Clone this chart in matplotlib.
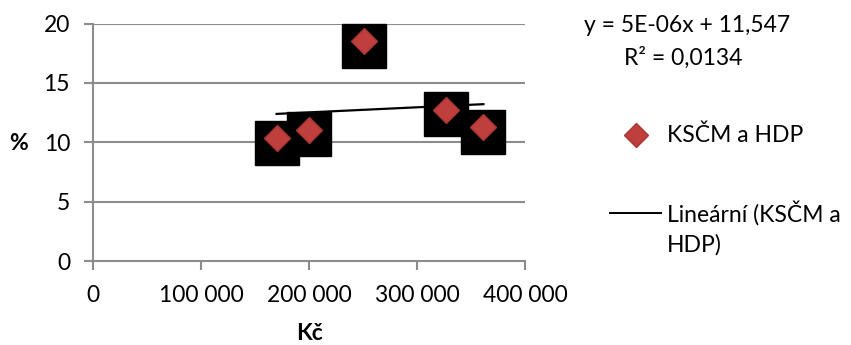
import numpy as np
import matplotlib
matplotlib.use("Agg")
import matplotlib.pyplot as plt
import matplotlib.transforms as mtransforms
from matplotlib.lines import Line2D

# Data
income = [170000, 200000, 251000, 327000, 361500]
share = [10.35, 11.05, 18.5, 12.75, 11.25]
series_name = "KSČM a HDP"
trend_name = "Lineární (KSČM a\nHDP)"
equation = "y = 5E-06x + 11,547"
r2_text = "R² = 0,0134"
x_ticks = [0, 100000, 200000, 300000, 400000]
x_ticklabels = ["0", "100 000", "200 000", "300 000", "400 000"]
y_ticks = [0, 5, 10, 15, 20]

FONT = "Lato"
plt.rcParams['font.family'] = [FONT, 'DejaVu Sans']
FS = 16.5

fig = plt.figure(figsize=(8.51, 3.45), dpi=100)
ax = fig.add_axes([93/851, 1-261/345, (525-93)/851, (261-23.5)/345])

grid_c = "#8c8c8c"
ax.set_xlim(0, 400000)
ax.set_ylim(0, 20)
ax.set_yticks(y_ticks)
ax.set_yticklabels([str(v) for v in y_ticks])
ax.set_xticks(x_ticks)
ax.set_xticklabels(x_ticklabels)
for v in y_ticks[1:]:
    ax.axhline(v, color=grid_c, lw=1.5, zorder=0)
for s in ["top", "right"]:
    ax.spines[s].set_visible(False)
for s in ["left", "bottom"]:
    ax.spines[s].set_color(grid_c)
    ax.spines[s].set_linewidth(1.5)
ax.tick_params(axis='both', colors=grid_c, length=6.5, width=1.5, direction='out',
               labelcolor='black', labelsize=FS)
ax.tick_params(axis='x', pad=11)
ax.tick_params(axis='y', pad=10)

# black squares slightly offset below markers
off = mtransforms.ScaledTranslation(0, -4.5/100, fig.dpi_scale_trans)
ax.plot(income, share, ls='none', marker='s', ms=31.5, mfc='black', mec='black',
        transform=ax.transData + off, zorder=2, clip_on=False)
ax.plot(income, share, ls='none', marker='D', ms=13.5, mfc='#BF3F3D', mec='#A83634',
        mew=1.0, zorder=4, clip_on=False)

# trendline
coef = np.polyfit(income, share, 1)
xs = np.array([min(income), max(income)])
ax.plot(xs, np.polyval(coef, xs), color='black', lw=1.6, zorder=3)

fig.text(310/851, 1-340/345, "Kč", fontsize=FS, fontweight='bold', ha='center', va='baseline')
fig.text(19/851, 1-143/345, "%", fontsize=FS, fontweight='bold', ha='center', va='center')

# equation text
fig.text(687/851, 1-26/345, equation, fontsize=FS, ha='center', va='center')
fig.text(683/851, 1-58/345, r2_text, fontsize=FS, ha='center', va='center')

# legend (manual)
fig.add_artist(Line2D([636/851], [1-135/345], marker='D', ms=12, mfc='#BF3F3D',
                      mec='#A83634', ls='none', transform=fig.transFigure))
fig.text(667/851, 1-135/345, series_name, fontsize=FS, ha='left', va='center')
fig.add_artist(Line2D([610/851, 661/851], [1-213/345, 1-213/345], color='black', lw=1.4,
                      transform=fig.transFigure))
fig.text(667/851, 1-213/345, trend_name.split("\n")[0], fontsize=FS, ha='left', va='center')
fig.text(667/851, 1-245/345, trend_name.split("\n")[1], fontsize=FS, ha='left', va='center')

fig.savefig("out.png", dpi=100)
